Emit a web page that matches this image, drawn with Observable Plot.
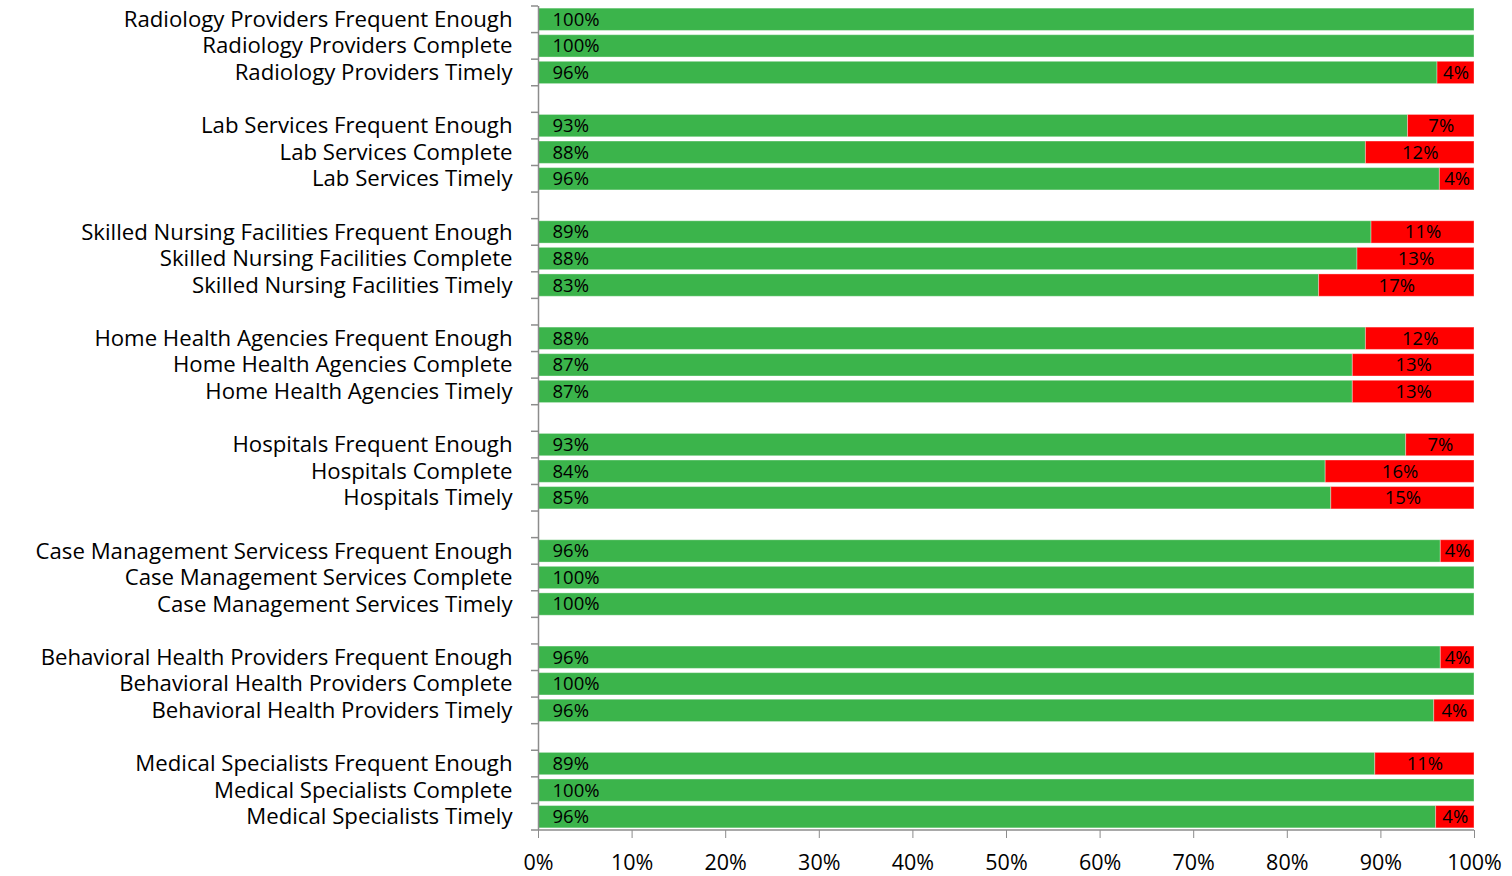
<!DOCTYPE html>
<html>
<head>
<meta charset="utf-8">
<script src="https://cdn.jsdelivr.net/npm/d3@7"></script>
<script src="https://cdn.jsdelivr.net/npm/@observablehq/plot@0.6"></script>
<style>
  html, body { margin: 0; padding: 0; background: #fff; }
  #chart svg { display: block; }
</style>
</head>
<body>
<div id="chart"></div>
<script>
const groupSizes = [3, 3, 3, 3, 3, 3, 3, 3];
const labels = [
  "Radiology Providers Frequent Enough", "Radiology Providers Complete", "Radiology Providers Timely",
  "Lab Services Frequent Enough", "Lab Services Complete", "Lab Services Timely",
  "Skilled Nursing Facilities Frequent Enough", "Skilled Nursing Facilities Complete", "Skilled Nursing Facilities Timely",
  "Home Health Agencies Frequent Enough", "Home Health Agencies Complete", "Home Health Agencies Timely",
  "Hospitals Frequent Enough", "Hospitals Complete", "Hospitals Timely",
  "Case Management Servicess Frequent Enough", "Case Management Services Complete", "Case Management Services Timely",
  "Behavioral Health Providers Frequent Enough", "Behavioral Health Providers Complete", "Behavioral Health Providers Timely",
  "Medical Specialists Frequent Enough", "Medical Specialists Complete", "Medical Specialists Timely"
];
const yesValues = [100, 100, 96.05, 92.9, 88.4, 96.3, 89.0, 87.5, 83.4, 88.4, 87.0, 87.0,
                   92.7, 84.1, 84.7, 96.4, 100, 100, 96.4, 100, 95.7, 89.4, 100, 95.9];
const noValues  = [0, 0, 3.95, 7.1, 11.6, 3.7, 11.0, 12.5, 16.6, 11.6, 13.0, 13.0,
                   7.3, 15.9, 15.3, 3.6, 0, 0, 3.6, 0, 4.3, 10.6, 0, 4.1];
const xTicks = [0, 10, 20, 30, 40, 50, 60, 70, 80, 90, 100];

const GREEN = "#3bb44b", RED = "#ff0000", AXIS = "#8c8c8c";
const FONT = "'Open Sans', Lato, sans-serif";

// Build row domain with blank spacer rows between groups
const domain = [];
let idx = 0;
groupSizes.forEach((n, g) => {
  if (g > 0) domain.push("gap" + g);
  for (let i = 0; i < n; i++) { domain.push(labels[idx]); idx++; }
});

const rows = labels.map((label, i) => ({label, yes: yesValues[i], no: noValues[i]}));
const segs = [];
rows.forEach(r => {
  segs.push({label: r.label, x1: 0, x2: r.yes, color: GREEN});
  if (r.no > 0) segs.push({label: r.label, x1: r.yes, x2: r.yes + r.no, color: RED});
});

const marginLeft = 538, marginRight = 38, marginTop = 6, marginBottom = 46;
const inner = 0.16;

const plot = Plot.plot({
  width: 1512,
  height: 876,
  marginLeft, marginRight, marginTop, marginBottom,
  style: {fontFamily: FONT, background: "#fff"},
  x: {domain: [0, 100], ticks: xTicks},
  y: {domain, paddingInner: inner, paddingOuter: inner / 2, round: false, label: null},
  marks: [
    Plot.barX(segs, {y: "label", x1: "x1", x2: "x2", fill: d => d.color, stroke: "#ffffff", strokeOpacity: 0.35, strokeWidth: 1}),
    Plot.text(rows, {y: "label", x: 0, text: d => Math.round(d.yes) + "%", textAnchor: "start", dx: 14, fontSize: 18.5, fill: "#000"}),
    Plot.text(rows.filter(d => d.no > 0), {y: "label", x: d => d.yes + d.no / 2, text: d => Math.round(d.no) + "%", textAnchor: "middle", fontSize: 18.5, fill: "#000"}),
    Plot.axisY({tickSize: 0, tickPadding: 26, fontSize: 22.2, label: null, tickFormat: d => d.startsWith("gap") ? "" : d, fill: "#000"}),
    Plot.axisX({ticks: xTicks, tickFormat: d => d + "%", tickSize: 8, tickPadding: 16, fontSize: 21.5, label: null, stroke: AXIS, fill: "#000"}),
    Plot.ruleX([0], {stroke: AXIS, strokeWidth: 1.5})
  ]
});

document.getElementById("chart").appendChild(plot);

// Category boundary ticks on y axis, and the x axis baseline, derived from scales
const ys = plot.scale("y"), xs = plot.scale("x");
const x0 = xs.apply(0), x100 = xs.apply(100);
const gap = (ys.step - ys.bandwidth) / 2;
const bounds = domain.map(k => ys.apply(k) - gap);
bounds.push(ys.apply(domain[domain.length - 1]) + ys.bandwidth + gap);
const svg = d3.select(plot);
svg.append("g").selectAll("line").data(bounds).join("line")
  .attr("x1", x0 - 7).attr("x2", x0).attr("y1", d => d).attr("y2", d => d)
  .attr("stroke", AXIS).attr("stroke-width", 1.5);
svg.append("line")
  .attr("x1", x0).attr("x2", x100)
  .attr("y1", bounds[bounds.length - 1]).attr("y2", bounds[bounds.length - 1])
  .attr("stroke", AXIS).attr("stroke-width", 1.5);
</script>
</body>
</html>
